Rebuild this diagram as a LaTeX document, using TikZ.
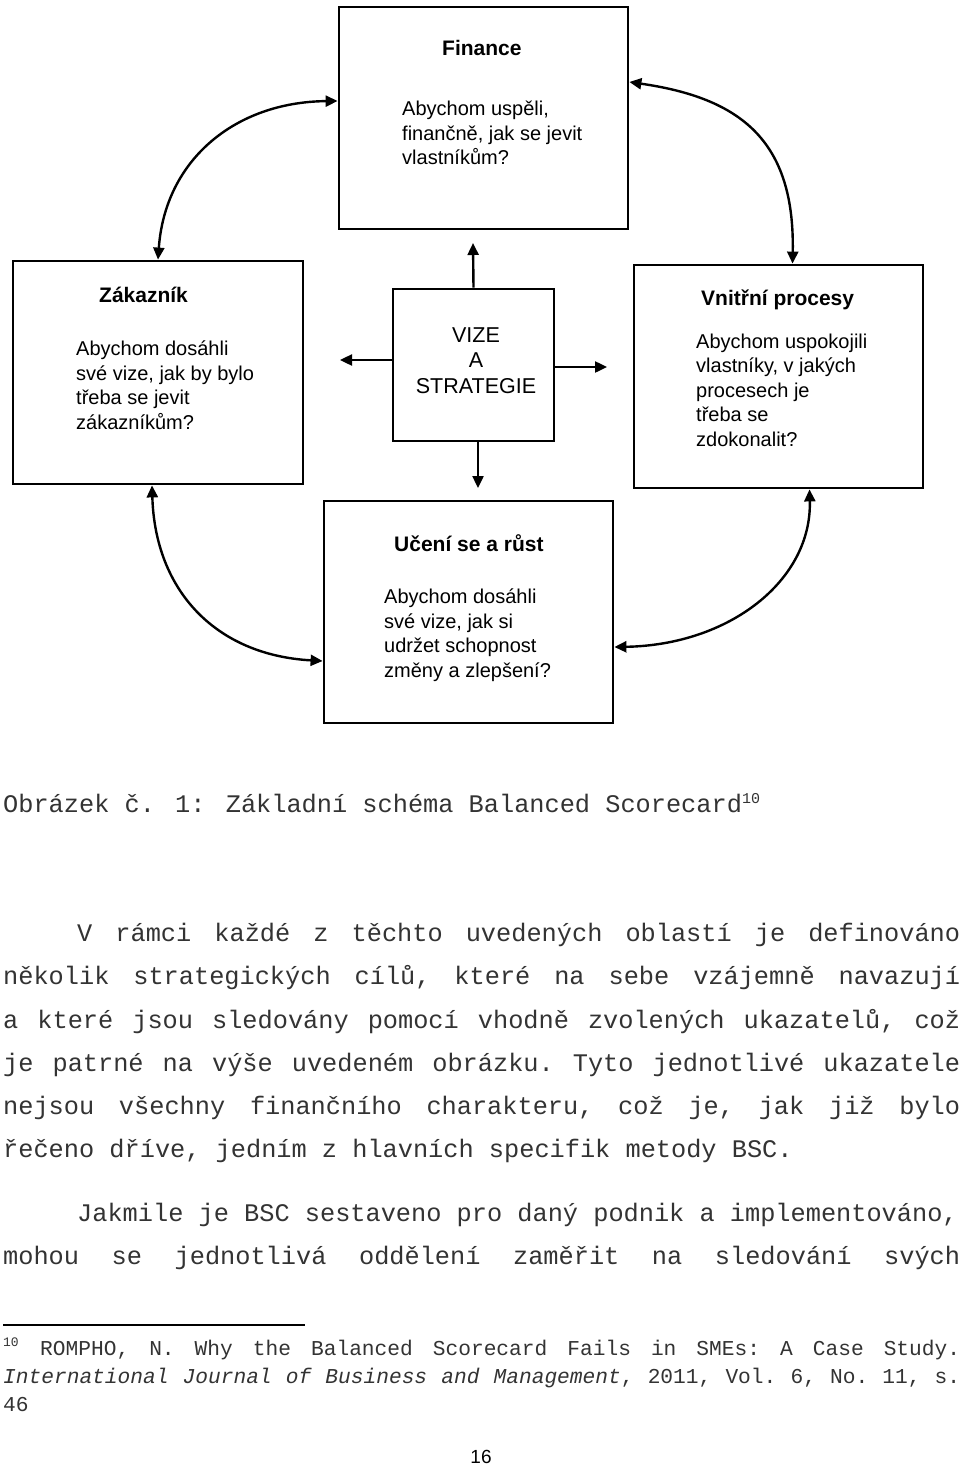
\documentclass[tikz,border=0pt]{standalone}
\usepackage{fontspec}
\usepackage{tikz}
\usetikzlibrary{arrows.meta}
\newfontfamily\arialFont{Liberation Sans}
\newfontfamily\courierFont{Liberation Mono}
\newcommand{\boxLine}[0]{2.8pt}
\newcommand{\arrowLine}[0]{2.4pt}
\newcommand{\titleSize}[0]{\fontsize{21}{25}\selectfont}
\newcommand{\textSize}[0]{\fontsize{20}{24.5}\selectfont}
\newcommand{\pageSize}[0]{\fontsize{25.3}{43}\selectfont}
\newcommand{\noteSize}[0]{\fontsize{21.2}{28}\selectfont}
\newcommand{\justLine}[2]{\makebox[#1][s]{\frenchspacing\spaceskip=0.6em plus 1fil\relax #2}}

\begin{document}
\begin{tikzpicture}[x=1pt, y=-1pt, >={Triangle[length=12pt, width=11pt]}]
  \tikzset{
    area/.style={draw, line width=\boxLine, minimum width=289pt, minimum height=222pt, inner sep=0pt},
    area title/.style={anchor=base west, inner sep=0pt, font=\arialFont\titleSize\bfseries},
    area text/.style={anchor=base west, inner sep=0pt, align=left, font=\arialFont\textSize},
    link/.style={line width=\arrowLine},
    page line/.style={anchor=base west, inner sep=0pt, text=black!80, font=\courierFont\pageSize},
    note line/.style={anchor=base west, inner sep=0pt, text=black!80, font=\courierFont\noteSize}
  }
  \useasboundingbox[fill=white] (0,0) rectangle (960,1466);
  % the five areas
  \node[area] (Finance) at (483.5,118) {};
  \node[area, minimum width=290pt, minimum height=223pt] (Zakaznik) at (158,372.5) {};
  \node[area, minimum height=223pt] (Procesy) at (778.5,376.5) {};
  \node[area, minimum width=161pt, minimum height=152pt] (Vize) at (473.5,365) {};
  \node[area] (Uceni) at (468.5,612) {};
  % texts sit on the baseline of their last line
  \node[area title] (Finance-title) at (442,56) {Finance};
  \node[area text] (Finance-text) at (402,165) {Abychom uspěli,\\finančně, jak se jevit\\vlastníkům?};
  \node[area title] (Zakaznik-title) at (99,302) {Zákazník};
  \node[area text] (Zakaznik-text) at (76,429) {Abychom dosáhli\\své vize, jak by bylo\\třeba se jevit\\zákazníkům?};
  \node[area title] (Procesy-title) at (701,305) {Vnitřní procesy};
  \node[area text] (Procesy-text) at (696,446) {Abychom uspokojili\\vlastníky, v jakých\\procesech je\\třeba se\\zdokonalit?};
  \node[area title] (Uceni-title) at (394,551) {Učení se a růst};
  \node[area text] (Uceni-text) at (384,677) {Abychom dosáhli\\své vize, jak si\\udržet schopnost\\změny a zlepšení?};
  \node[anchor=base, align=center, inner sep=0pt, font=\arialFont\fontsize{21.5}{25.5}\selectfont] (Vize-text) at (476,393) {VIZE\\A\\STRATEGIE};
  % arrows out of the vision
  \coordinate (Vize-up) at (473,243);
  \coordinate (Vize-left) at (340,360);
  \coordinate (Vize-right) at (607,367);
  \coordinate (Vize-down) at (478,488);
  \draw[link, ->] (Vize.north) -- (Vize-up);
  \draw[link, ->] (Vize.west |- Vize-left) -- (Vize-left);
  \draw[link, ->] (Vize.east |- Vize-right) -- (Vize-right);
  \draw[link, ->] (Vize.south -| Vize-down) -- (Vize-down);
  % the cycle
  \draw[link, <->] (Zakaznik.north) .. controls (165,160) and (235,102) .. ([yshift=17pt]Finance.west);
  \draw[link, <->] ([yshift=36pt]Finance.east) .. controls (740,98) and (795,140) .. ([xshift=14pt]Procesy.north);
  \draw[link, <->] ([xshift=-6pt]Zakaznik.south) .. controls (155,590) and (215,655) .. ([yshift=-49pt]Uceni.west);
  \draw[link, <->] ([xshift=31pt]Procesy.south) .. controls (812,580) and (730,645) .. ([yshift=-35pt]Uceni.east);
  % page text
  \node[page line] (Caption) at (3,812) {Obrázek č. 1: Základní schéma Balanced Scorecard\raisebox{9pt}{\fontsize{15}{15}\selectfont 10}};
  \node[page line] (Text-1) at (77,941) {\justLine{883pt}{V rámci každé z těchto uvedených oblastí je definováno}};
  \node[page line] (Text-2) at (3,984) {\justLine{957pt}{několik strategických cílů, které na sebe vzájemně navazují}};
  \node[page line] (Text-3) at (3,1028) {\justLine{957pt}{a které jsou sledovány pomocí vhodně zvolených ukazatelů, což}};
  \node[page line] (Text-4) at (3,1071) {\justLine{957pt}{je patrné na výše uvedeném obrázku. Tyto jednotlivé ukazatele}};
  \node[page line] (Text-5) at (3,1114) {\justLine{957pt}{nejsou všechny finančního charakteru, což je, jak již bylo}};
  \node[page line] (Text-6) at (3,1157) {řečeno dříve, jedním z hlavních specifik metody BSC.};
  \node[page line] (Text-7) at (77,1221) {Jakmile je BSC sestaveno pro daný podnik a implementováno,};
  \node[page line] (Text-8) at (3,1264) {\justLine{957pt}{mohou se jednotlivá oddělení zaměřit na sledování svých}};
  % footnote
  \draw[line width=1.2pt] (3,1325) -- (305,1325);
  \node[note line] (Note-mark) at (3,1346) {\fontsize{13}{13}\selectfont 10};
  \node[note line] (Note-1) at (40,1355) {\justLine{920pt}{ROMPHO, N. Why the Balanced Scorecard Fails in SMEs: A Case Study.}};
  \node[note line] (Note-2) at (3,1383) {\justLine{957pt}{\textit{International Journal of Business and Management}, 2011, Vol. 6, No. 11, s.}};
  \node[note line] (Note-3) at (3,1411) {46};
  \node[anchor=base, inner sep=0pt, font=\arialFont\fontsize{19}{19}\selectfont] (Page-number) at (481,1463) {16};
\end{tikzpicture}
\end{document}
